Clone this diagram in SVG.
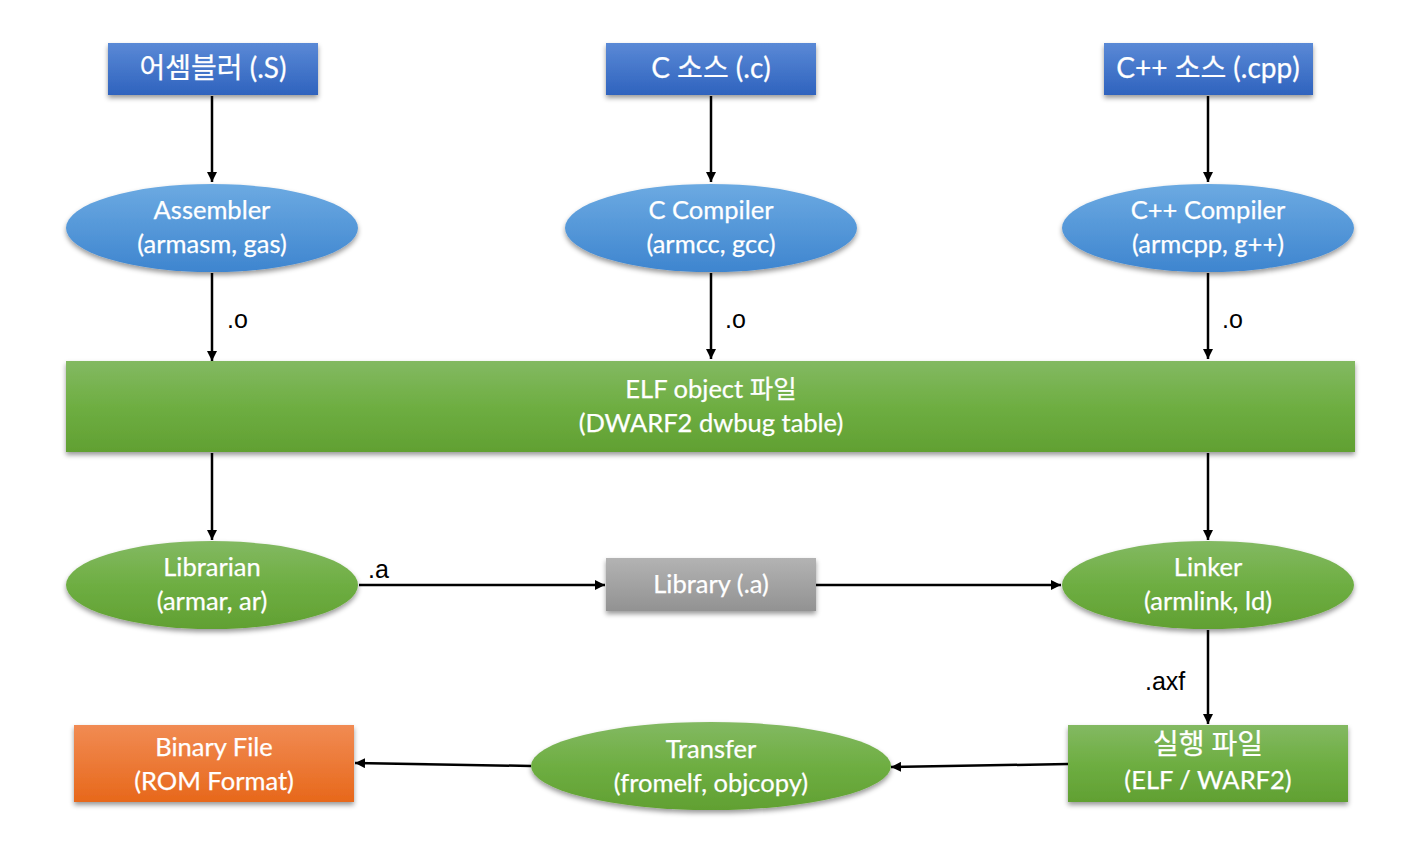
<svg xmlns="http://www.w3.org/2000/svg" width="1424" height="851" viewBox="0 0 1424 851">
<defs>
<linearGradient id="gBlue" x1="0" y1="0" x2="0" y2="1"><stop offset="0" stop-color="#5a89d6"/><stop offset="1" stop-color="#2f63be"/></linearGradient>
<linearGradient id="gSky" x1="0" y1="0" x2="0" y2="1"><stop offset="0" stop-color="#6caae2"/><stop offset="1" stop-color="#3e85cf"/></linearGradient>
<linearGradient id="gGreen" x1="0" y1="0" x2="0" y2="1"><stop offset="0" stop-color="#83b962"/><stop offset="0.5" stop-color="#6eae42"/><stop offset="1" stop-color="#61a032"/></linearGradient>
<linearGradient id="gGray" x1="0" y1="0" x2="0" y2="1"><stop offset="0" stop-color="#b3b3b3"/><stop offset="1" stop-color="#929292"/></linearGradient>
<linearGradient id="gOrange" x1="0" y1="0" x2="0" y2="1"><stop offset="0" stop-color="#f18b53"/><stop offset="1" stop-color="#e7681b"/></linearGradient>
<filter id="sh" x="-10%" y="-20%" width="120%" height="150%"><feDropShadow dx="0" dy="3" stdDeviation="2.5" flood-color="#000" flood-opacity="0.4"/></filter>
<marker id="ah" viewBox="0 0 10 10" refX="10" refY="5" markerWidth="10" markerHeight="10" markerUnits="userSpaceOnUse" orient="auto"><path d="M0,0 L10,5 L0,10 z" fill="#000"/></marker>
<style>
.t{font-family:Lato,"Noto Sans CJK KR",sans-serif;font-size:25.5px;fill:#fff;text-anchor:middle;stroke:#fff;stroke-width:0.25}
.k{font-family:Lato,"Noto Sans CJK KR",sans-serif;font-size:28px;fill:#fff;text-anchor:middle;stroke:#fff;stroke-width:0.25}
.l{font-family:"Liberation Sans",Arial,sans-serif;font-size:25px;fill:#000}
.c{stroke:#000;stroke-width:2.5;fill:none;marker-end:url(#ah)}
</style>
</defs>
<g id="connectors">
<line class="c" x1="212" y1="96" x2="212" y2="182"/>
<line class="c" x1="711" y1="96" x2="711" y2="182"/>
<line class="c" x1="1208" y1="96" x2="1208" y2="182"/>
<line class="c" x1="212" y1="273" x2="212" y2="361"/>
<line class="c" x1="711" y1="273" x2="711" y2="359"/>
<line class="c" x1="1208" y1="273" x2="1208" y2="359"/>
<line class="c" x1="212" y1="453" x2="212" y2="540"/>
<line class="c" x1="1208" y1="453" x2="1208" y2="540"/>
<line class="c" x1="359" y1="585" x2="605" y2="585"/>
<line class="c" x1="816" y1="585" x2="1061" y2="585"/>
<line class="c" x1="1208" y1="630" x2="1208" y2="724"/>
<line class="c" x1="1068" y1="764" x2="891" y2="767"/>
<line class="c" x1="531" y1="766" x2="355" y2="763"/>
<text class="l" x="227" y="328">.o</text>
<text class="l" x="725" y="328">.o</text>
<text class="l" x="1222" y="328">.o</text>
<text class="l" x="368" y="578">.a</text>
<text class="l" x="1145" y="690">.axf</text>
</g>
<g id="asm-src"><rect x="108" y="43" width="210" height="52" fill="url(#gBlue)" filter="url(#sh)"/><text class="k" x="213" y="78">어셈블러 (.S)</text></g>
<g id="c-src"><rect x="606" y="43" width="210" height="52" fill="url(#gBlue)" filter="url(#sh)"/><text class="k" x="711" y="78">C 소스 (.c)</text></g>
<g id="cpp-src"><rect x="1104" y="43" width="209" height="52" fill="url(#gBlue)" filter="url(#sh)"/><text class="k" x="1208" y="78">C++ 소스 (.cpp)</text></g>
<g id="assembler"><ellipse cx="212" cy="228" rx="146" ry="44" fill="url(#gSky)" filter="url(#sh)"/><text class="t" x="212" y="219">Assembler</text><text class="t" x="212" y="253">(armasm, gas)</text></g>
<g id="c-compiler"><ellipse cx="711" cy="228" rx="146" ry="44" fill="url(#gSky)" filter="url(#sh)"/><text class="t" x="711" y="219">C Compiler</text><text class="t" x="711" y="253">(armcc, gcc)</text></g>
<g id="cpp-compiler"><ellipse cx="1208" cy="228" rx="146" ry="44" fill="url(#gSky)" filter="url(#sh)"/><text class="t" x="1208" y="219">C++ Compiler</text><text class="t" x="1208" y="253">(armcpp, g++)</text></g>
<g id="elf-object"><rect x="66" y="361" width="1289" height="91" fill="url(#gGreen)" filter="url(#sh)"/><text class="t" x="711" y="398">ELF object 파일</text><text class="t" x="711" y="432">(DWARF2 dwbug table)</text></g>
<g id="librarian"><ellipse cx="212" cy="585" rx="146" ry="44" fill="url(#gGreen)" filter="url(#sh)"/><text class="t" x="212" y="576">Librarian</text><text class="t" x="212" y="610">(armar, ar)</text></g>
<g id="library"><rect x="606" y="558" width="210" height="53" fill="url(#gGray)" filter="url(#sh)"/><text class="t" x="711" y="593">Library (.a)</text></g>
<g id="linker"><ellipse cx="1208" cy="585" rx="146" ry="44" fill="url(#gGreen)" filter="url(#sh)"/><text class="t" x="1208" y="576">Linker</text><text class="t" x="1208" y="610">(armlink, ld)</text></g>
<g id="executable"><rect x="1068" y="725" width="280" height="77" fill="url(#gGreen)" filter="url(#sh)"/><text class="k" x="1208" y="754">실행 파일</text><text class="t" x="1208" y="789">(ELF / WARF2)</text></g>
<g id="transfer"><ellipse cx="711" cy="766" rx="180" ry="44" fill="url(#gGreen)" filter="url(#sh)"/><text class="t" x="711" y="758">Transfer</text><text class="t" x="711" y="792">(fromelf, objcopy)</text></g>
<g id="binary"><rect x="74" y="725" width="280" height="77" fill="url(#gOrange)" filter="url(#sh)"/><text class="t" x="214" y="756">Binary File</text><text class="t" x="214" y="790">(ROM Format)</text></g>
</svg>
